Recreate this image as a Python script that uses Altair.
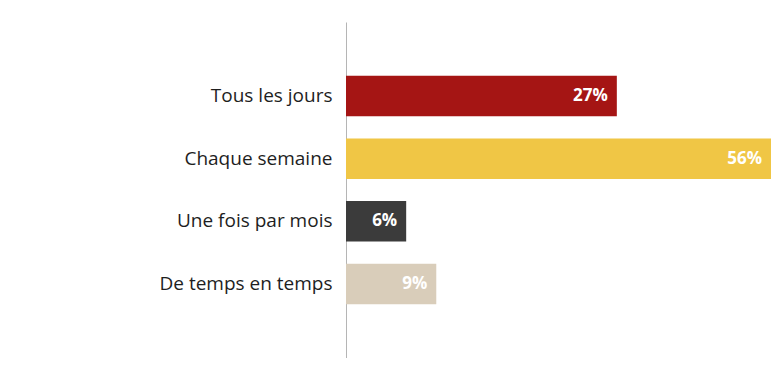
import altair as alt
import pandas as pd

categories = ["Tous les jours", "Chaque semaine", "Une fois par mois", "De temps en temps"]
values = [27, 56, 6, 9]
labels = ["27%", "56%", "6%", "9%"]
colors = ["#A51514", "#F0C645", "#3B3B3B", "#D9CDBA"]

df = pd.DataFrame({"cat": categories, "val": values, "lab": labels})

FONT = "Open Sans"

y = alt.Y("cat:N", sort=categories,
          scale=alt.Scale(paddingInner=0.355, paddingOuter=0.86),
          axis=alt.Axis(title=None, ticks=False, grid=False, domain=True,
                        domainColor="#b5b5b5", domainWidth=1,
                        labelFont=FONT, labelFontSize=19, labelColor="#1e1e1e",
                        labelPadding=14, labelLimit=400,
                        minExtent=338, maxExtent=338))
x = alt.X("val:Q", scale=alt.Scale(domain=[0, 42.37], nice=False, clamp=True),
          axis=None)

bars = alt.Chart(df).mark_bar().encode(
    y=y, x=x,
    color=alt.Color("cat:N", scale=alt.Scale(domain=categories, range=colors), legend=None),
)
text = alt.Chart(df).mark_text(align="right", baseline="middle", dx=-9, color="white",
                               font=FONT, fontWeight="bold", fontSize=17).encode(
    y=alt.Y("cat:N", sort=categories), x=alt.X("val:Q"), text="lab:N")

chart = alt.layer(bars, text).properties(
    width=425, height=336,
    padding={"left": 0, "top": 14, "right": 0, "bottom": 0},
    background="white",
).configure_view(stroke=None)

chart.save("out.html", embed_options={"renderer": "svg", "actions": False})
